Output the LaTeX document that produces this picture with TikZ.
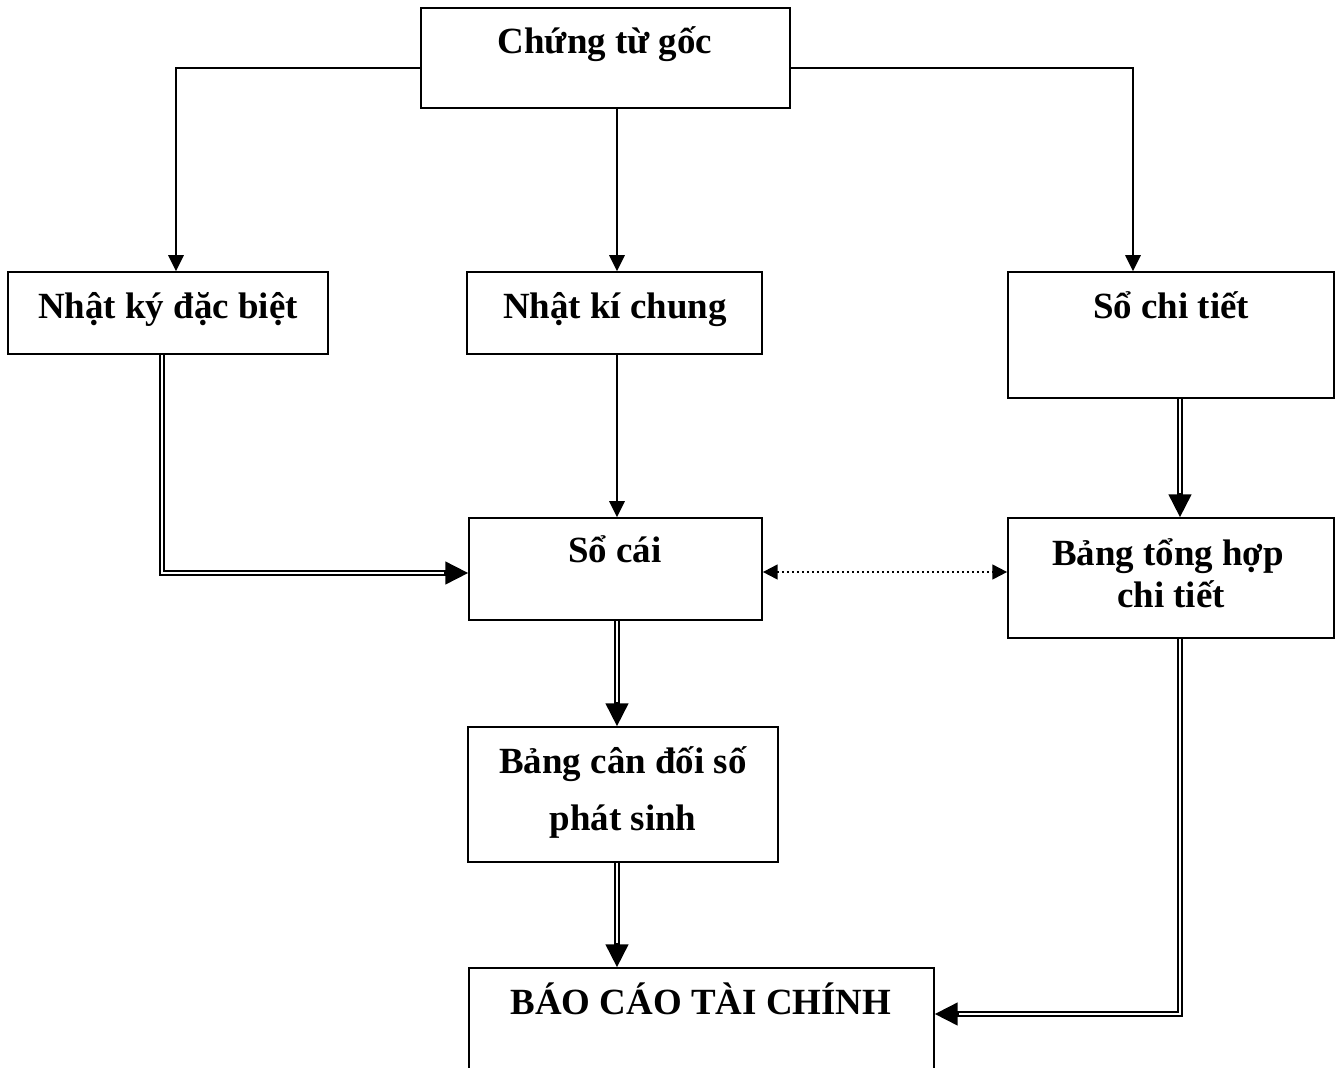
\documentclass[tikz,border=0pt]{standalone}
\usepackage{fontspec}
\setmainfont{Liberation Serif}
\usetikzlibrary{arrows.meta}
\begin{document}
\begin{tikzpicture}[x=0.75pt,y=-0.75pt,
  box/.style={draw,line width=1.3pt,rectangle,inner sep=0pt},
  lbl/.style={anchor=base,inner sep=0pt,font=\fontsize{27.7pt}{33pt}\selectfont\bfseries},
  sarr/.style={line width=1.5pt,-{Triangle[length=12pt,width=11.5pt]}},
  dline/.style={double,double distance=1.8pt,line width=1.4pt},
  dtip/.style={line width=1.4pt,-{Triangle[length=17pt,width=17pt]}},
  dotarr/.style={line width=1.5pt,dash pattern=on 1.5pt off 2.25pt,
    {Triangle[length=11pt,width=11pt]}-{Triangle[length=11pt,width=11pt]}}]
\useasboundingbox (0,0) rectangle (1340,1068);

% boxes
\node[box,minimum width=369*0.75pt,minimum height=100*0.75pt] (ctg) at (605.5,58) {};
\node[box,minimum width=320*0.75pt,minimum height=82*0.75pt] (nkdb) at (168,313) {};
\node[box,minimum width=295*0.75pt,minimum height=82*0.75pt] (nkc) at (614.5,313) {};
\node[box,minimum width=326*0.75pt,minimum height=126*0.75pt] (sct) at (1171,335) {};
\node[box,minimum width=293*0.75pt,minimum height=102*0.75pt] (sc) at (615.5,569) {};
\node[box,minimum width=326*0.75pt,minimum height=120*0.75pt] (bth) at (1171,578) {};
\node[box,minimum width=310*0.75pt,minimum height=135*0.75pt] (bcd) at (623,794.5) {};
\node[box,minimum width=465*0.75pt,minimum height=120*0.75pt] (bctc) at (701.5,1028) {};

% labels
\node[lbl] (t1) at (605,53) {Chứng từ gốc};
\node[lbl] (t2) at (168,318) {Nhật ký đặc biệt};
\node[lbl] (t3) at (615,318) {Nhật kí chung};
\node[lbl] (t4) at (1171,318) {Sổ chi tiết};
\node[lbl] (t5) at (615,562) {Sổ cái};
\node[lbl] (t6) at (1168,565) {Bảng tổng hợp};
\node[lbl] (t7) at (1171,607) {chi tiết};
\node[lbl] (t8) at (623,773) {Bảng cân đối số};
\node[lbl] (t9) at (623,830) {phát sinh};
\node[lbl] (t10) at (701,1014) {BÁO CÁO TÀI CHÍNH};

% single connectors from the source documents
\draw[sarr] (ctg.west |- 0,68) -| (nkdb.north -| 176,0);
\draw[sarr] (ctg.south -| 617,0) -- (nkc.north -| 617,0);
\draw[sarr] (ctg.east |- 0,68) -| (sct.north -| 1133,0);
\draw[sarr] (nkc.south -| 617,0) -- (sc.north -| 617,0);

% double connectors
\draw[dline] (nkdb.south -| 162,0) |- ([xshift=-16pt]sc.west |- 0,573);
\draw[dtip] ([xshift=-18pt]sc.west |- 0,573) -- (sc.west |- 0,573);

\draw[dline] (sct.south -| 1180,0) -- ([yshift=16pt]bth.north -| 1180,0);
\draw[dtip] ([yshift=18pt]bth.north -| 1180,0) -- (bth.north -| 1180,0);

\draw[dline] (sc.south -| 617,0) -- ([yshift=16pt]bcd.north -| 617,0);
\draw[dtip] ([yshift=18pt]bcd.north -| 617,0) -- (bcd.north -| 617,0);

\draw[dline] (bcd.south -| 617,0) -- ([yshift=16pt]bctc.north -| 617,0);
\draw[dtip] ([yshift=18pt]bctc.north -| 617,0) -- (bctc.north -| 617,0);

\draw[dline] (bth.south -| 1180,0) |- ([xshift=16pt]bctc.east |- 0,1014);
\draw[dtip] ([xshift=18pt]bctc.east |- 0,1014) -- (bctc.east |- 0,1014);

% dotted two-way link
\draw[dotarr] (sc.east |- 0,572) -- (bth.west |- 0,572);
\end{tikzpicture}
\end{document}
